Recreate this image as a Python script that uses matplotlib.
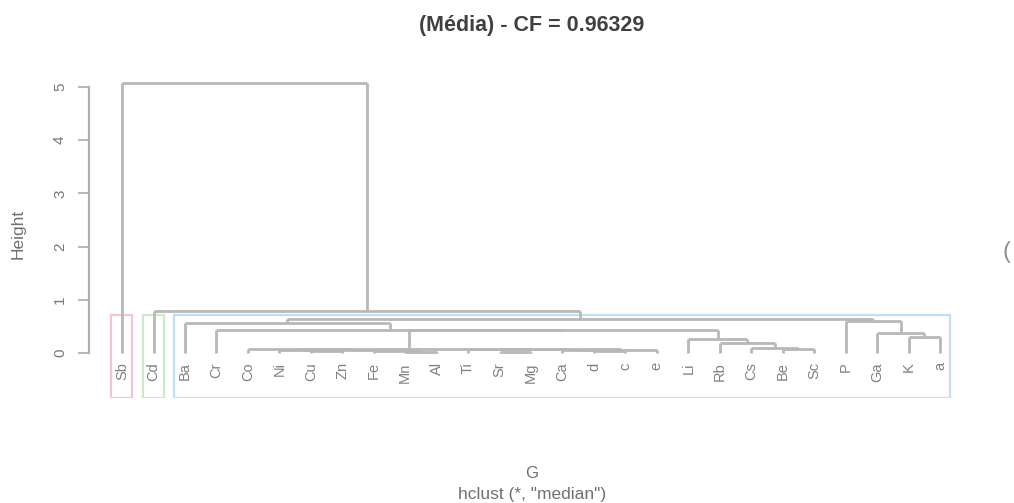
import numpy as np
import matplotlib
matplotlib.use("Agg")
import matplotlib.pyplot as plt
from matplotlib.patches import Rectangle

plt.rcParams['font.family'] = ['Liberation Sans', 'DejaVu Sans']

# leaf labels in plotting order (unreadable in the reference, short codes)
leaf_labels = ["Sb", "Cd", "Ba", "Cr", "Co", "Ni", "Cu", "Zn", "Fe", "Mn",
               "Al", "Ti", "Sr", "Mg", "Ca", "d", "c", "e", "Li", "Rb",
               "Cs", "Be", "Sc", "P", "Ga", "K", "a"]

# merges, R style: negative = leaf (1-based), positive = earlier merge (1-based)
merge_left = [-10, -13, -16, -9, -7, -15, -6, 6, 7, 2, -5, -12, 11,
              -22, -21, -20, -19, 13, -4, -26, -25, -24, -3, 23, -2, -1]
merge_right = [-11, -14, -17, 1, -8, 3, 5, -18, 4, 8, 9, 10, 12,
               -23, 14, 15, 16, 17, 18, -27, 20, 21, 19, 22, 24, 25]
merge_height = [0.02, 0.03, 0.035, 0.045, 0.05, 0.055, 0.06, 0.065, 0.068,
                0.07, 0.072, 0.074, 0.075, 0.075, 0.09, 0.19, 0.26, 0.43,
                0.44, 0.30, 0.38, 0.60, 0.565, 0.64, 0.80, 5.06]

cluster_bounds = [(1, 1), (2, 2), (3, 27)]
cluster_colors = ["#f2c6cf", "#c9ebc9", "#bfe0f2"]
cut_height = (0.80 + 0.64) / 2

fig = plt.figure(figsize=(10.14, 5.03), dpi=100)
ax = fig.add_axes([0.0881, 0.2087, 0.8712, 0.6541])

xpos = {}
hgt = {}


def node(i):
    if i < 0:
        return -i, 0.0
    return xpos[i], hgt[i]


line_kw = dict(color="#b8b8b8", lw=2.0, solid_capstyle="butt")
for k, (a, b, h) in enumerate(zip(merge_left, merge_right, merge_height), start=1):
    xa, ha = node(a)
    xb, hb = node(b)
    ax.plot([xa, xa], [ha, h], **line_kw)
    ax.plot([xb, xb], [hb, h], **line_kw)
    ax.plot([xa, xb], [h, h], **line_kw)
    xpos[k] = (xa + xb) / 2
    hgt[k] = h

n = len(leaf_labels)
ymin = -0.84
for i, lab in enumerate(leaf_labels, start=1):
    ax.text(i, -0.17, lab, rotation=90, ha="center", va="top",
            fontsize=10.5, color="#808080")

for (lo, hi), col in zip(cluster_bounds, cluster_colors):
    ax.add_patch(Rectangle((lo - 1 + 0.66, ymin), hi - lo + 0.67, cut_height - ymin,
                           fill=False, edgecolor=col, lw=1.6))

ax.set_xlim(1 - 0.04 * (n - 1), n + 0.04 * (n - 1))
ax.set_ylim(ymin, 5.33)
for s in ["top", "right", "bottom"]:
    ax.spines[s].set_visible(False)
ax.spines["left"].set_bounds(0, 5)
ax.spines["left"].set_color("#b0b0b0")
ax.spines["left"].set_linewidth(1.6)
ax.set_xticks([])
ax.set_yticks(range(6))
ax.tick_params(axis="y", length=8, width=1.4, color="#b8b8b8", pad=8,
               labelsize=11, labelcolor="#777777")
for t in ax.get_yticklabels():
    t.set_rotation(90)
    t.set_va("center")

ax.set_ylabel("Height", fontsize=12.5, color="#707070", labelpad=20)
fig.text(532 / 1014, 1 - 26 / 503, "(Média) - CF = 0.96329", ha="center",
         va="center", fontsize=15.5, fontweight="bold", color="#404040")
fig.text(532 / 1014, 1 - 474 / 503, "G", ha="center", va="center",
         fontsize=12, color="#707070")
fig.text(532 / 1014, 1 - 494 / 503, 'hclust (*, "median")', ha="center",
         va="center", fontsize=12.5, color="#707070")
fig.text(1002 / 1014, 1 - 252 / 503, "(", ha="left", va="center",
         fontsize=17, color="#909090")

fig.savefig("out.png", dpi=100)
